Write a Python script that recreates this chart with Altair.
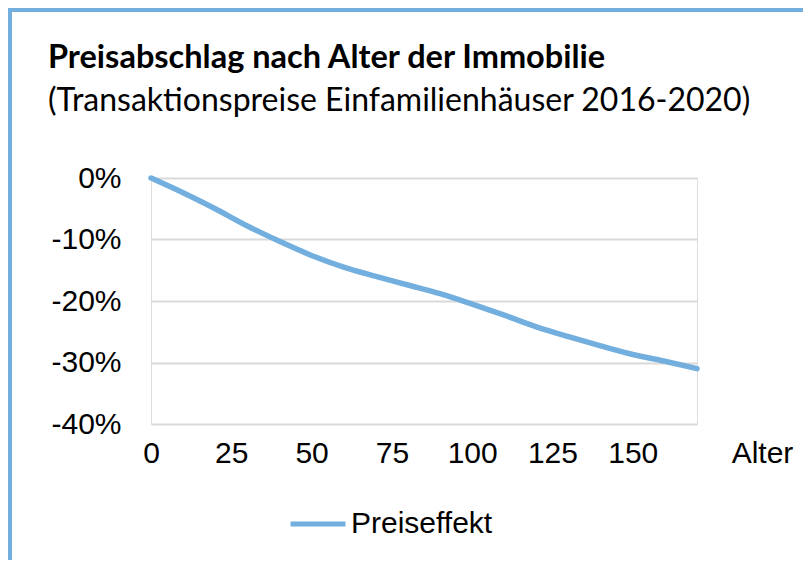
import altair as alt
import pandas as pd

# Data
alter = [0, 10, 20, 30, 40, 50, 60, 70, 80, 90, 100, 110, 120, 130, 140, 150, 160, 170]
preiseffekt = [0.0, -2.4, -5.0, -7.8, -10.3, -12.6, -14.5, -16.0, -17.4, -18.8,
               -20.5, -22.3, -24.2, -25.8, -27.3, -28.7, -29.8, -31.0]
serie = "Preiseffekt"
x_ticks = [0, 25, 50, 75, 100, 125, 150]
y_ticks = [0, -0.1, -0.2, -0.3, -0.4]
titel = "Preisabschlag nach Alter der Immobilie"
untertitel = "(Transaktionspreise Einfamilienhäuser 2016-2020)"

BLUE = "#72AFDE"
GRID = "#D9D9D9"
FS = 30

df = pd.DataFrame({
    "Alter": alter,
    "Effekt": [v / 100 for v in preiseffekt],
    "Serie": [serie] * len(alter),
})

W, H = 546, 246

line = alt.Chart(df).mark_line(
    strokeWidth=5.5, strokeCap="round", strokeJoin="round", interpolate="monotone"
).encode(
    x=alt.X("Alter:Q",
            scale=alt.Scale(domain=[0, 170], nice=False, zero=False),
            axis=alt.Axis(values=x_ticks, grid=False, domain=False, ticks=False, tickSize=0,
                          labelFont="Liberation Sans", labelFontSize=FS, labelColor="#000000",
                          labelPadding=29, labelBaseline="middle", labelFlush=False,
                          title="Alter", titleFont="Liberation Sans", titleFontSize=FS,
                          titleFontWeight="normal", titleColor="#000000",
                          titleX=611, titleY=29, titleAlign="center", titleBaseline="middle",
                          titleAnchor="start")),
    y=alt.Y("Effekt:Q",
            scale=alt.Scale(domain=[-0.4, 0], nice=False),
            axis=alt.Axis(values=y_ticks, grid=True, gridColor=GRID, gridWidth=2,
                          labelExpr="round(datum.value * 100) + '%'",
                          domain=False, ticks=False, tickSize=0,
                          labelFont="Liberation Sans", labelFontSize=FS, labelColor="#000000",
                          labelPadding=30, labelBaseline="middle", title=None)),
    color=alt.Color("Serie:N", scale=alt.Scale(range=[BLUE]),
                    legend=alt.Legend(title=None, orient="none", legendX=137, legendY=316,
                                      symbolType="stroke", symbolSize=3025, symbolStrokeWidth=5,
                                      labelFont="Liberation Sans", labelFontSize=FS,
                                      labelColor="#000000", labelOffset=3)),
)

title_layer = alt.Chart(pd.DataFrame({"t": [titel]})).mark_text(
    font="Lato", fontSize=32.5, fontWeight="bold", align="left", baseline="alphabetic",
    color="#000000"
).encode(text="t:N", x=alt.value(-103), y=alt.value(-110))

subtitle_layer = alt.Chart(pd.DataFrame({"t": [untertitel]})).mark_text(
    font="Lato", fontSize=32, align="left", baseline="alphabetic", color="#000000"
).encode(text="t:N", x=alt.value(-103), y=alt.value(-67))

frame_left = alt.Chart(pd.DataFrame({"a": [0]})).mark_rule(color=BLUE, strokeWidth=4).encode(
    x=alt.value(-141), y=alt.value(-172), y2=alt.value(390))
frame_top = alt.Chart(pd.DataFrame({"a": [0]})).mark_rule(color=BLUE, strokeWidth=4).encode(
    y=alt.value(-168), x=alt.value(-143), x2=alt.value(700))

chart = alt.layer(frame_left, frame_top, line, title_layer, subtitle_layer).properties(
    width=W, height=H,
    autosize=alt.AutoSizeParams(type="none"),
    padding={"left": 143, "top": 170, "right": 106, "bottom": 136},
).configure_view(stroke=None).configure(background="#FFFFFF")

chart.save("out.html", embed_options={"renderer": "svg", "actions": False})
